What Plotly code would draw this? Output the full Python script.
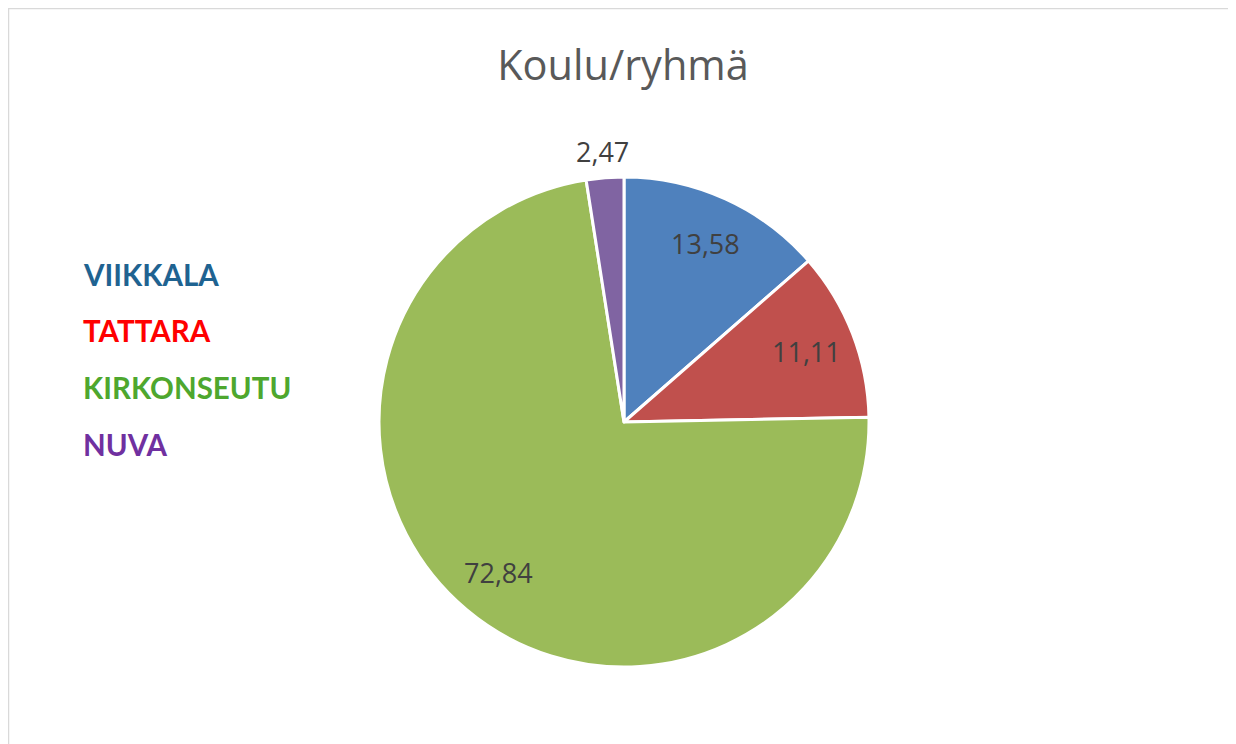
import math
import plotly.graph_objects as go

categories = ["VIIKKALA", "TATTARA", "KIRKONSEUTU", "NUVA"]
values = [13.58, 11.11, 72.84, 2.47]
slice_colors = ["#4F81BD", "#C0504D", "#9BBB59", "#8064A2"]
legend_colors = ["#1F6391", "#FF0000", "#4EA72E", "#7030A0"]
text_labels = [f"{v:.2f}".replace(".", ",") for v in values]
label_radius = [0.80, 0.80, 0.80, 1.106]  # fraction of pie radius

W, H = 1236, 744
cx, cy, R = 616, 414, 245  # pixel centre/radius of the pie within the figure

fig = go.Figure()
fig.add_trace(go.Pie(
    labels=categories,
    values=values,
    textinfo="none",
    sort=False,
    direction="clockwise",
    rotation=0,
    marker=dict(colors=slice_colors, line=dict(color="white", width=3)),
    domain=dict(x=[(cx - R) / W, (cx + R) / W], y=[(H - cy - R) / H, (H - cy + R) / H]),
    showlegend=False,
    hoverinfo="label+value",
))

# data labels placed at the angular middle of each slice
total = sum(values)
cum = 0.0
for v, lab, rf in zip(values, text_labels, label_radius):
    theta = math.radians((cum + v / 2) / total * 360.0)
    cum += v
    px = cx + rf * R * math.sin(theta)
    py = cy - rf * R * math.cos(theta)
    fig.add_annotation(
        x=px / W, y=1 - py / H, xref="paper", yref="paper",
        xanchor="center", yanchor="middle", showarrow=False,
        text=lab, font=dict(family="Open Sans", size=27, color="#404040"),
    )

# legend as coloured text
legend_y = [266, 323, 379, 436]
for name, col, y in zip(categories, legend_colors, legend_y):
    fig.add_annotation(
        x=73 / W, y=1 - y / H, xref="paper", yref="paper",
        xanchor="left", yanchor="middle", showarrow=False,
        text=f"<b>{name}</b>",
        font=dict(family="Lato", size=29.5, color=col),
    )

# frame
fig.add_shape(type="rect", xref="paper", yref="paper",
              x0=0.5 / W, y0=-0.05, x1=1.05, y1=1 - 0.5 / H,
              line=dict(color="#D9D9D9", width=1.5), fillcolor="rgba(0,0,0,0)", layer="below")

fig.update_layout(
    width=W, height=H,
    margin=dict(l=0, r=0, t=0, b=0),
    paper_bgcolor="white", plot_bgcolor="white",
    title=dict(text="Koulu/ryhmä", x=615 / W, xanchor="center", y=1 - 57 / H, yanchor="middle",
               font=dict(family="Open Sans", size=41.5, color="#595959")),
)

fig.write_html("out.html")
